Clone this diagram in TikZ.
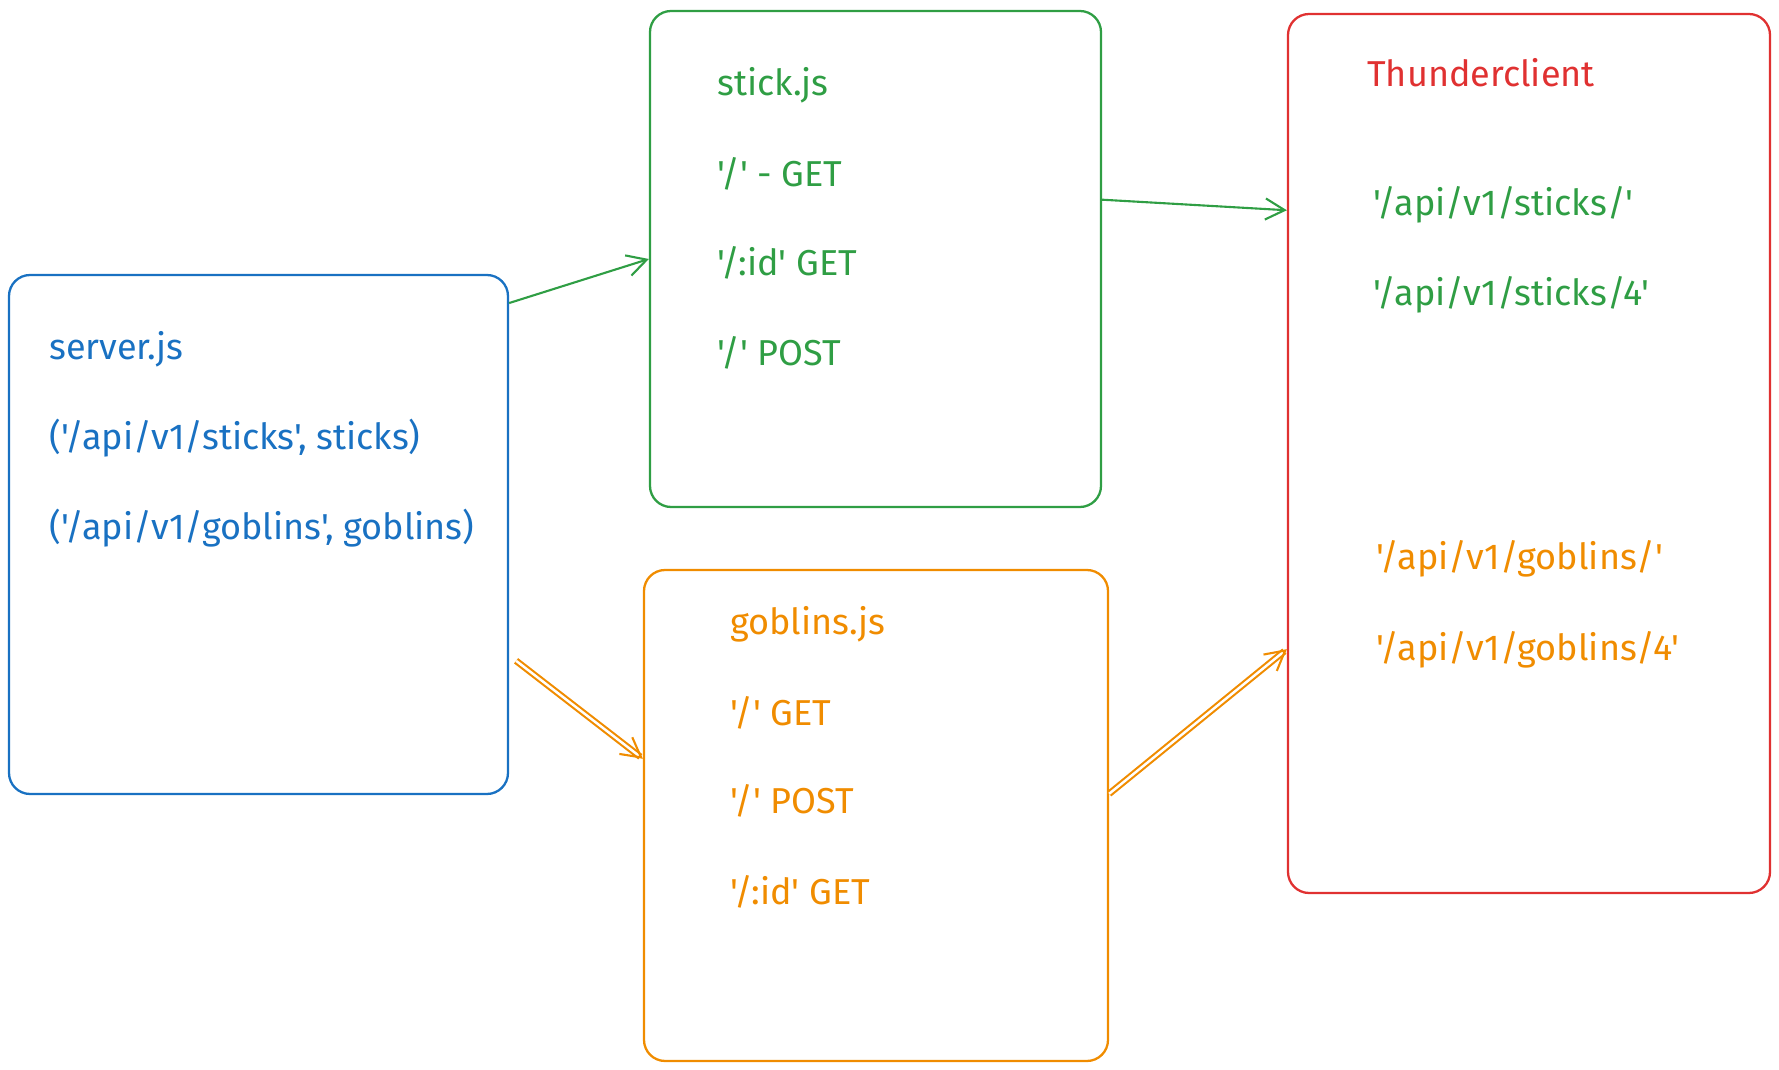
\documentclass[tikz,border=0pt]{standalone}
\usepackage{fontspec}
\setmainfont{Fira Sans}[Ligatures=TeXOff]
\usetikzlibrary{arrows.meta, calc}
\definecolor{sblue}{HTML}{1971C2}
\definecolor{sgreen}{HTML}{2F9E44}
\definecolor{sorange}{HTML}{F08C00}
\definecolor{sred}{HTML}{E03131}
\tikzset{
  box/.style = {draw, line width=1.3pt, rounded corners=12pt, inner sep=0pt},
  txt/.style = {anchor=west, inner sep=0pt, font=\fontsize{20.5}{24}\selectfont},
  link/.style = {line width=1.2pt, -{Straight Barb[length=11pt, width=12pt]}},
  dlink/.style = {link, double, double distance=1.4pt}
}
\begin{document}
\begin{tikzpicture}[x=0.02cm, y=-0.02cm]
            \useasboundingbox (0,0) rectangle (1779,1070);
            % boxes
            \node[box, sblue, minimum width=499*0.02cm, minimum height=519*0.02cm] (server) at (258.5,534.5) {};
            \node[box, sgreen, minimum width=451*0.02cm, minimum height=496*0.02cm] (stick) at (875.5,259) {};
            \node[box, sorange, minimum width=464*0.02cm, minimum height=491*0.02cm] (goblins) at (876,815.5) {};
            \node[box, sred, minimum width=482*0.02cm, minimum height=879*0.02cm] (thunder) at (1529,453.5) {};
            % server.js
            \node[txt, sblue] (s1) at (49,349) {server.js};
            \node[txt, sblue] (s2) at (49,438) {('/api/v1/sticks', sticks)};
            \node[txt, sblue] (s3) at (49,528) {('/api/v1/goblins', goblins)};
            % stick.js
            \node[txt, sgreen] (k1) at (717,85) {stick.js};
            \node[txt, sgreen] (k2) at (717,174) {'/' - GET};
            \node[txt, sgreen] (k3) at (717,263) {'/:id' GET};
            \node[txt, sgreen] (k4) at (717,353) {'/' POST};
            % goblins.js
            \node[txt, sorange] (g1) at (730,624) {goblins.js};
            \node[txt, sorange] (g2) at (730,713) {'/' GET};
            \node[txt, sorange] (g3) at (730,801) {'/' POST};
            \node[txt, sorange] (g4) at (730,892) {'/:id' GET};
            % Thunderclient
            \node[txt, sred] (t0) at (1367,73) {Thunderclient};
            \node[txt, sgreen] (t1) at (1373,205) {'/api/v1/sticks/'};
            \node[txt, sgreen] (t2) at (1373,295) {'/api/v1/sticks/4'};
            \node[txt, sorange] (t3) at (1376,559) {'/api/v1/goblins/'};
            \node[txt, sorange] (t4) at (1376,650) {'/api/v1/goblins/4'};
            % connectors
            \draw[link, sgreen] ($(server.north east)!0.056!(server.south east)$) -- (stick.west);
            \draw[link, sgreen] ($(stick.north east)!0.381!(stick.south east)$) -- ($(thunder.north west)!0.224!(thunder.south west)$);
            \draw[dlink, sorange, shorten <=5pt] ($(server.north east)!0.732!(server.south east)$) -- ($(goblins.north west)!0.385!(goblins.south west)$);
            \draw[dlink, sorange] ($(goblins.north east)!0.456!(goblins.south east)$) -- ($(thunder.north west)!0.722!(thunder.south west)$);
        \end{tikzpicture}
\end{document}
